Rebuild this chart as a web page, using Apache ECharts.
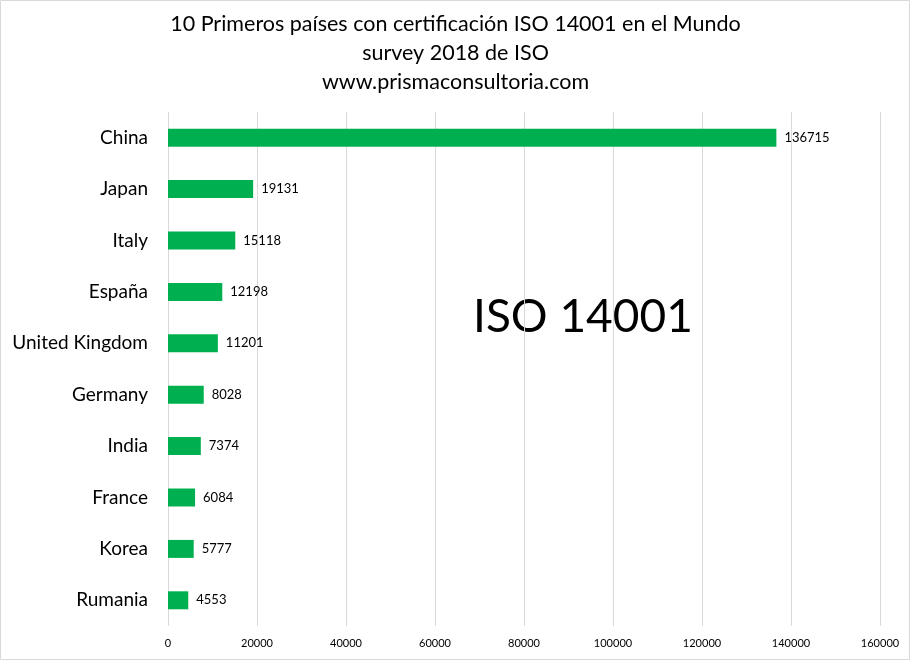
<!DOCTYPE html>
<html>
<head>
<meta charset="utf-8">
<script src="https://cdn.jsdelivr.net/npm/echarts@6/dist/echarts.min.js"></script>
<style>
  html, body { margin: 0; padding: 0; background: #fff; }
  #main { width: 911px; height: 661px; }
</style>
</head>
<body>
<div id="main"></div>
<script>
// datos del survey ISO 2018
var paises = ['China', 'Japan', 'Italy', 'España', 'United Kingdom', 'Germany', 'India', 'France', 'Korea', 'Rumania'];
var certificados = [136715, 19131, 15118, 12198, 11201, 8028, 7374, 6084, 5777, 4553];
var ejeMax = 160000;
var ejePaso = 20000;

var chart = echarts.init(document.getElementById('main'));
var fuente = 'Lato, "Open Sans", sans-serif';

var option = {
    backgroundColor: '#fff',
    animation: false,
    title: {
        text: '10 Primeros países con certificación ISO 14001 en el Mundo\nsurvey 2018 de ISO\nwww.prismaconsultoria.com',
        left: 'center',
        top: 5,
        textStyle: {
            color: '#000',
            fontFamily: fuente,
            fontSize: 21.5,
            fontWeight: 'normal',
            lineHeight: 29
        }
    },
    grid: {
        left: 168,
        right: 31,
        top: 112,
        bottom: 35
    },
    xAxis: {
        type: 'value',
        min: 0,
        max: ejeMax,
        interval: ejePaso,
        axisLine: {show: false},
        axisTick: {show: false},
        axisLabel: {
            color: '#000',
            fontFamily: fuente,
            fontSize: 11,
            margin: 12,
            formatter: function (v) { return String(v); }
        },
        splitLine: {
            show: true,
            lineStyle: {color: '#d9d9d9', width: 1}
        }
    },
    yAxis: {
        type: 'category',
        inverse: true,
        data: paises,
        axisLine: {show: false},
        axisTick: {show: false},
        axisLabel: {
            color: '#000',
            fontFamily: fuente,
            fontSize: 19,
            margin: 20
        }
    },
    series: [
        {
            type: 'bar',
            data: certificados,
            barCategoryGap: '65%',
            itemStyle: {color: '#00B050'},
            label: {
                show: true,
                position: 'right',
                distance: 8,
                color: '#000',
                fontFamily: fuente,
                fontSize: 13
            }
        }
    ],
    graphic: [
        {
            type: 'text',
            left: 473,
            top: 294,
            style: {
                text: 'ISO 14001',
                fill: '#000',
                fontFamily: fuente,
                fontSize: 46
            }
        },
        {
            type: 'rect',
            shape: {x: 0.5, y: 0.5, width: 909, height: 659},
            style: {fill: 'none', stroke: '#d9d9d9', lineWidth: 1},
            silent: true
        }
    ]
};

chart.setOption(option);
</script>
</body>
</html>
